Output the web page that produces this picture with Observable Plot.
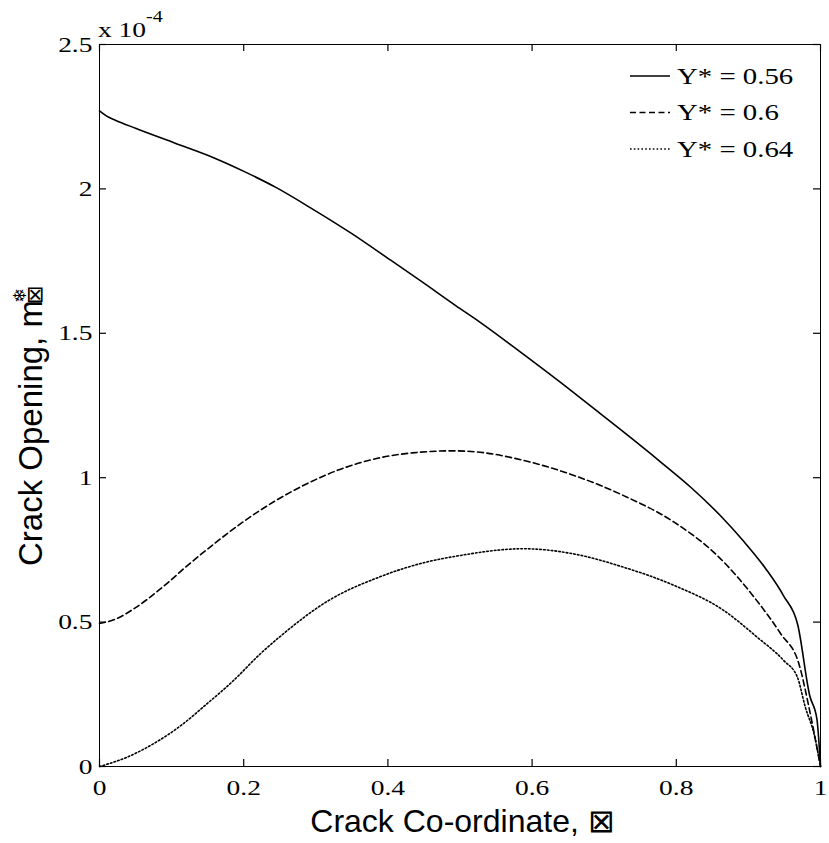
<!DOCTYPE html>
<html>
<head>
<meta charset="utf-8">
<script src="https://cdn.jsdelivr.net/npm/d3@7"></script>
<script src="https://cdn.jsdelivr.net/npm/@observablehq/plot@0.6"></script>
<style>
  html, body { margin: 0; padding: 0; background: #fff; }
  #chart svg { display: block; }
</style>
</head>
<body>
<div id="chart"></div>
<script>
// ---- data (crack opening in units of 1e-4) ----
const seriesNames = ["Y* = 0.56", "Y* = 0.6", "Y* = 0.64"];
const dashStyles = ["none", "6,3.5", "1.6,2.2"];

const x056 = [0, 0.01, 0.022, 0.05, 0.105, 0.159, 0.2025, 0.244, 0.295, 0.350, 0.401, 0.448, 0.494, 0.528, 0.584, 0.639, 0.695, 0.732, 0.778, 0.820, 0.861, 0.894, 0.924, 0.949, 0.9685, 0.985, 0.995, 1.0];
const y056 = [2.27, 2.252, 2.238, 2.210, 2.158, 2.107, 2.058, 2.006, 1.931, 1.845, 1.758, 1.677, 1.596, 1.538, 1.435, 1.331, 1.221, 1.148, 1.055, 0.967, 0.869, 0.778, 0.685, 0.590, 0.490, 0.246, 0.165, 0];

const x060 = [0, 0.022, 0.05, 0.087, 0.124, 0.161, 0.198, 0.244, 0.290, 0.337, 0.387, 0.434, 0.49, 0.528, 0.588, 0.658, 0.727, 0.797, 0.857, 0.908, 0.945, 0.970, 0.984, 0.995, 1.0];
const y060 = [0.495, 0.510, 0.550, 0.620, 0.700, 0.775, 0.845, 0.920, 0.982, 1.032, 1.068, 1.086, 1.093, 1.088, 1.060, 1.008, 0.938, 0.846, 0.730, 0.586, 0.459, 0.356, 0.205, 0.067, 0];

const x064 = [0, 0.038, 0.075, 0.112, 0.149, 0.186, 0.223, 0.249, 0.318, 0.387, 0.457, 0.494, 0.588, 0.658, 0.727, 0.797, 0.866, 0.912, 0.949, 0.968, 0.979, 0.991, 1.0];
const y064 = [0, 0.032, 0.079, 0.140, 0.217, 0.298, 0.390, 0.447, 0.575, 0.655, 0.710, 0.728, 0.754, 0.736, 0.690, 0.627, 0.540, 0.448, 0.367, 0.309, 0.205, 0.113, 0];

const xTicks = [0, 0.2, 0.4, 0.6, 0.8, 1];
const yTicks = [0, 0.5, 1, 1.5, 2, 2.5];

const xLabel = "Crack Co-ordinate, \u22A0";
const yLabelMain = "Crack Opening, m";
const yLabelSup = "\u2744";
const yLabelTail = "\u22A0";

// ---- build rows ----
const xs = [x056, x060, x064];
const ys = [y056, y060, y064];
const rows = [];
seriesNames.forEach((s, i) => xs[i].forEach((x, j) => rows.push({series: s, x, y: ys[i][j]})));

const serif = "Liberation Serif, Times New Roman, serif";
const sans = "Liberation Sans, Arial, Helvetica, sans-serif";

const W = 829, H = 843, ML = 99, MR = 9, MT = 44, MB = 77;
const innerW = W - ML - MR, innerH = H - MT - MB;
const T = 7; // inward tick length

const lineMarks = seriesNames.map((s, i) =>
  Plot.line(rows.filter(d => d.series === s), {
    x: "x", y: "y", stroke: "black", strokeWidth: 1.6, curve: "monotone-x",
    strokeDasharray: dashStyles[i] === "none" ? null : dashStyles[i]
  })
);

const plot = Plot.plot({
  width: W,
  height: H,
  marginLeft: ML,
  marginRight: MR,
  marginTop: MT,
  marginBottom: MB,
  style: {fontFamily: serif, fontSize: "22px", color: "black", background: "white", overflow: "visible"},
  x: {domain: [0, 1]},
  y: {domain: [0, 2.5]},
  marks: [
    ...lineMarks,
    Plot.frame({stroke: "black", strokeWidth: 1}),
    // inward tick marks on all four sides
    Plot.tickX(xTicks, {x: d => d, stroke: "black", strokeWidth: 1.2, insetTop: innerH - T}),
    Plot.tickX(xTicks, {x: d => d, stroke: "black", strokeWidth: 1.2, insetBottom: innerH - T}),
    Plot.tickY(yTicks, {y: d => d, stroke: "black", strokeWidth: 1.2, insetRight: innerW - T}),
    Plot.tickY(yTicks, {y: d => d, stroke: "black", strokeWidth: 1.2, insetLeft: innerW - T}),
    // tick labels
    Plot.axisX(xTicks, {anchor: "bottom", tickSize: 0, tickPadding: 13, label: null, tickFormat: d3.format("")}),
    Plot.axisY(yTicks, {anchor: "left", tickSize: 0, tickPadding: 7, label: null, tickFormat: d3.format("")})
  ]
});

document.getElementById("chart").appendChild(plot);

const svg = d3.select(plot);
// serif tick labels, horizontally widened like the reference
svg.selectAll('g[aria-label$="tick label"]')
  .attr("font-family", serif).attr("font-size", 22)
  .style("font-family", serif).style("font-size", "22px");
svg.selectAll('g[aria-label$="tick label"] text').each(function() {
  const t = this.getAttribute("transform") || "";
  this.setAttribute("transform", t + " scale(1.25,1)");
});

const x0 = ML, x1 = W - MR, y0 = H - MB, y1 = MT;

// exponent label "x 10^-4"
const expo = svg.append("text")
  .attr("transform", `translate(${x0 - 1},${y1 - 7}) scale(1.25,1)`)
  .attr("text-anchor", "start")
  .attr("font-family", serif).attr("font-size", 22).attr("fill", "black");
expo.append("tspan").text("x 10");
expo.append("tspan").attr("font-size", 16).attr("dy", -15).text("-4");

// x-axis label
svg.append("text")
  .attr("x", (x0 + x1) / 2 + 3).attr("y", y0 + 66)
  .attr("text-anchor", "middle")
  .attr("font-family", sans).attr("font-size", 32).attr("fill", "black")
  .text(xLabel);

// y-axis label (rotated)
const yl = svg.append("text")
  .attr("transform", `translate(42,${y0 - 200}) rotate(-90)`)
  .attr("text-anchor", "start")
  .attr("font-family", sans).attr("font-size", 33).attr("fill", "black");
yl.append("tspan").text(yLabelMain);
yl.append("tspan").attr("font-size", 18).attr("dy", -16).attr("dx", -3).attr("font-family", "DejaVu Sans, sans-serif").text(yLabelSup);
yl.append("tspan").attr("font-size", 22).attr("dy", 16).attr("dx", -16).attr("font-family", "DejaVu Sans, sans-serif").text(yLabelTail);

// legend (inside top-right)
const lg = svg.append("g").attr("transform", `translate(${x1 - 190},${y1 + 32})`);
seriesNames.forEach((s, i) => {
  const g = lg.append("g").attr("transform", `translate(0,${i * 36.5})`);
  g.append("line").attr("x1", 0).attr("x2", 40).attr("y1", 0).attr("y2", 0)
    .attr("stroke", "black").attr("stroke-width", 1.6)
    .attr("stroke-dasharray", dashStyles[i] === "none" ? null : dashStyles[i]);
  g.append("text").attr("transform", "translate(47,0) scale(1.2,1)").attr("dy", "0.33em")
    .attr("text-anchor", "start")
    .attr("font-family", serif).attr("font-size", 24).attr("fill", "black").text(s);
});
</script>
</body>
</html>
